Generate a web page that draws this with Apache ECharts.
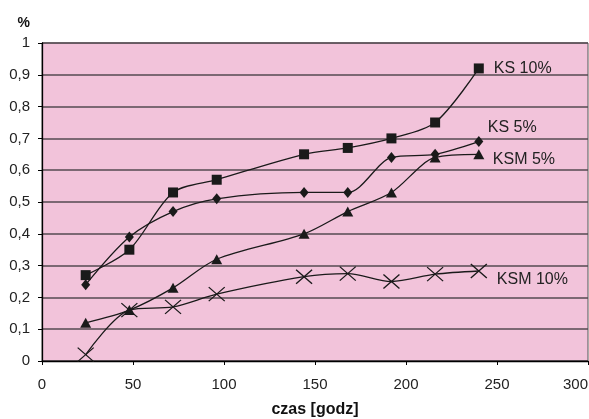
<!DOCTYPE html>
<html>
<head>
<meta charset="utf-8">
<script src="https://cdn.jsdelivr.net/npm/echarts@6/dist/echarts.min.js"></script>
<style>html,body{margin:0;padding:0;background:#fff}#c{width:589px;height:419px}</style>
</head>
<body>
<div id="c"></div>
<script>
var hours = [24, 48, 72, 96, 144, 168, 192, 216, 240];
var ks10 = [0.27, 0.35, 0.53, 0.57, 0.65, 0.67, 0.70, 0.75, 0.92];
var ks5 = [0.24, 0.39, 0.47, 0.51, 0.53, 0.53, 0.64, 0.65, 0.69];
var ksm5 = [0.12, 0.16, 0.23, 0.32, 0.40, 0.47, 0.53, 0.64, 0.65];
var ksm10 = [0.02, 0.16, 0.17, 0.21, 0.265, 0.275, 0.25, 0.273, 0.283];
var seriesNames = ['KS 10%', 'KS 5%', 'KSM 5%', 'KSM 10%'];
var xAxisTitle = 'czas [godz]';
var yAxisTitle = '%';

function pairs(v) { return hours.map(function (h, i) { return [h, v[i]]; }); }
var FONT = '"Liberation Sans", Arial, sans-serif';
var LINE = '#1a1a1a';

function mk(name, vals, symbol, size, offset, extraItem) {
  return {
    name: name, type: 'line', data: pairs(vals), smooth: 0.3,
    symbol: symbol, symbolSize: size,
    lineStyle: { color: LINE, width: 1.3 },
    itemStyle: extraItem || { color: LINE },
    endLabel: { show: true, formatter: name, color: '#222', fontFamily: FONT, fontSize: 16,
      align: 'left', verticalAlign: 'middle', offset: offset, distance: 5 },
    animation: false, z: 3
  };
}

var chart = echarts.init(document.getElementById('c'), null, { renderer: 'canvas' });
chart.setOption({
  animation: false,
  backgroundColor: '#ffffff',
  grid: { left: 42, right: 1, top: 43, bottom: 58, containLabel: false, outerBoundsMode: 'none',
    show: true, backgroundColor: '#f2c3da', borderColor: '#555', borderWidth: 1 },
  xAxis: {
    type: 'value', min: 0, max: 300, interval: 50,
    name: xAxisTitle, nameLocation: 'middle', nameGap: 49,
    nameTextStyle: { fontFamily: FONT, fontSize: 16, fontWeight: 'bold', color: '#111', verticalAlign: 'middle' },
    axisLine: { lineStyle: { color: '#000', width: 1.3 } },
    axisTick: { show: true, length: 4, lineStyle: { color: '#000' } },
    axisLabel: { fontFamily: FONT, fontSize: 15, color: '#222', margin: 16, alignMaxLabel: 'right' },
    splitLine: { show: false }
  },
  yAxis: {
    type: 'value', min: 0, max: 1, interval: 0.1,
    name: yAxisTitle, nameLocation: 'end', nameGap: 20,
    nameTextStyle: { fontFamily: FONT, fontSize: 14, fontWeight: 'bold', color: '#111', align: 'right', verticalAlign: 'middle', padding: [0, 12, 0, 0] },
    axisLine: { show: true, lineStyle: { color: '#000', width: 1.3 } },
    axisTick: { show: true, length: 4, lineStyle: { color: '#000' } },
    axisLabel: { fontFamily: FONT, fontSize: 15, color: '#222', margin: 12,
      formatter: function (v) { var r = Math.round(v * 10) / 10; return (r === 0 || r === 1) ? String(r) : r.toFixed(1).replace('.', ','); } },
    splitLine: { show: true, lineStyle: { color: '#554a50', width: 1.5 } }
  },
  series: [
    mk(seriesNames[0], ks10, 'rect', 10, [10, 0]),
    mk(seriesNames[1], ks5, 'diamond', [9, 11], [4, -14]),
    mk(seriesNames[2], ksm5, 'triangle', [11, 10], [9, 5]),
    mk(seriesNames[3], ksm10, 'path://M0,0L10,10M10,0L0,10', [16, 14], [13, 9],
      { color: 'rgba(0,0,0,0)', borderColor: LINE, borderWidth: 1.2 })
  ]
});
</script>
</body>
</html>
